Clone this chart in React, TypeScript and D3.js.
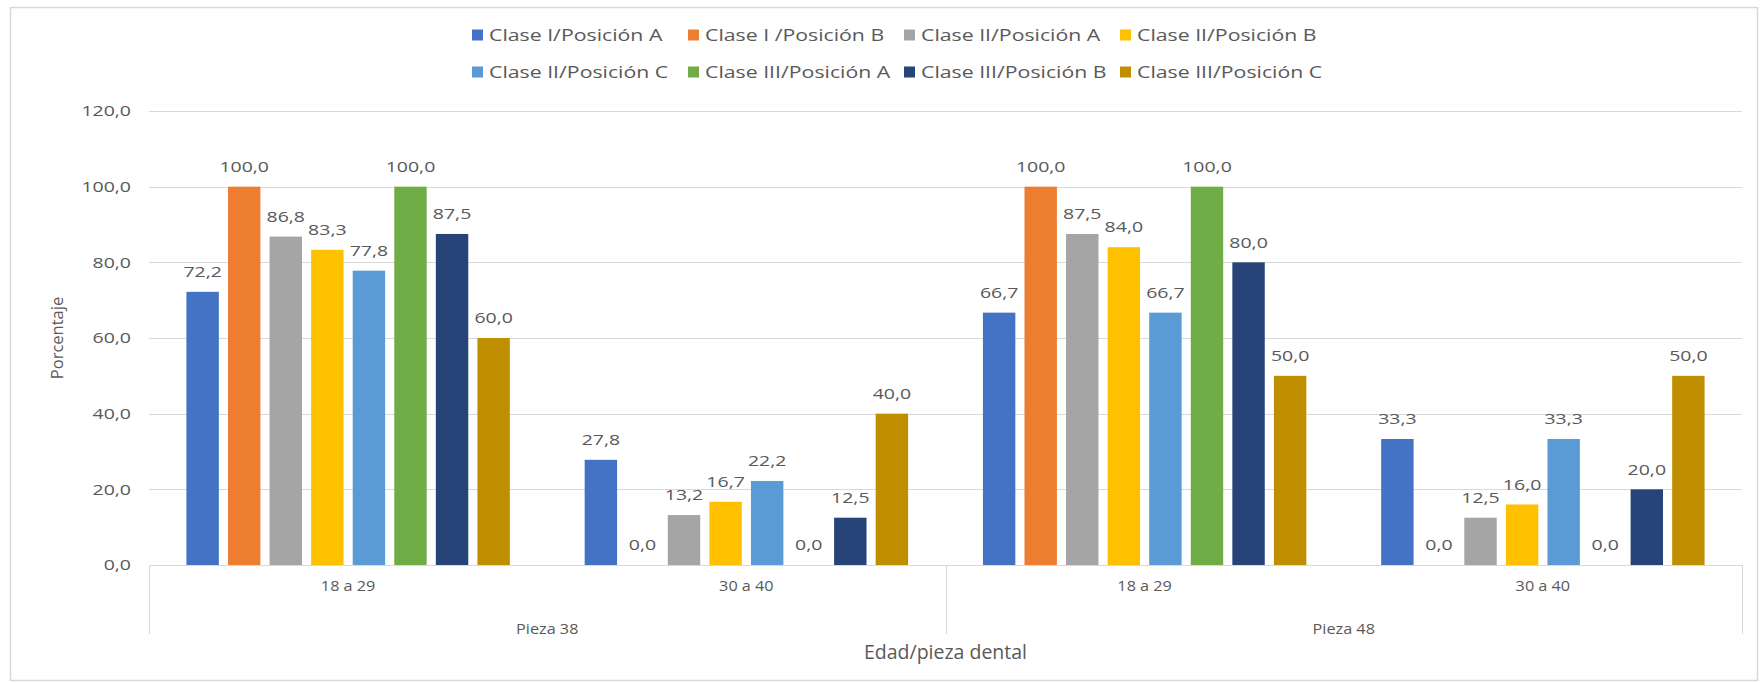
import React, { useEffect, useRef } from "react";
import * as d3 from "d3";

const seriesNames = [
  "Clase I/Posición A",
  "Clase I /Posición B",
  "Clase II/Posición A",
  "Clase II/Posición B",
  "Clase II/Posición C",
  "Clase III/Posición A",
  "Clase III/Posición B",
  "Clase III/Posición C",
];
const seriesColors = ["#4472C4", "#ED7D31", "#A5A5A5", "#FFC000", "#5B9BD5", "#70AD47", "#264478", "#BF8F00"];

const groups = ["Pieza 38", "Pieza 48"];
const ageLabels = ["18 a 29", "30 a 40"];
const categories = ["P38-18", "P38-30", "P48-18", "P48-30"];

const valP38_18 = [72.2, 100.0, 86.8, 83.3, 77.8, 100.0, 87.5, 60.0];
const valP38_30 = [27.8, 0.0, 13.2, 16.7, 22.2, 0.0, 12.5, 40.0];
const valP48_18 = [66.7, 100.0, 87.5, 84.0, 66.7, 100.0, 80.0, 50.0];
const valP48_30 = [33.3, 0.0, 12.5, 16.0, 33.3, 0.0, 20.0, 50.0];
const categoryValues = [valP38_18, valP38_30, valP48_18, valP48_30];

const yTicks = [0, 20, 40, 60, 80, 100, 120];

const W = 1760;
const H = 683;
const FONT = "'Open Sans', 'Noto Sans', sans-serif";
const TXT = "#595959";

const fmt = (v: number) => d3.format(".1f")(v).replace(".", ",");

export default function App() {
  const ref = useRef<SVGSVGElement | null>(null);

  useEffect(() => {
    const svg = d3.select(ref.current);
    svg.selectAll("*").remove();

    const left = 149;
    const right = 1742;
    const top = 111;
    const bottom = 565;

    const y = d3.scaleLinear().domain([0, 120]).range([bottom, top]);
    const x0 = d3.scaleBand<string>().domain(categories).range([left, right]).padding(0);
    const x1 = d3
      .scaleBand<number>()
      .domain(d3.range(seriesNames.length))
      .range([0, x0.bandwidth()])
      .paddingInner(0.22)
      .paddingOuter(0.9);

    // helper: text with horizontal stretch
    const stretched = (
      sel: any,
      xf: (d: any, i: number) => number,
      yf: (d: any, i: number) => number,
      size: number,
      sx: number,
      anchor: string
    ) =>
      sel
        .attr("transform", (d: any, i: number) => `translate(${xf(d, i)},${yf(d, i)}) scale(${sx},1)`)
        .attr("dy", "0.35em")
        .attr("text-anchor", anchor)
        .attr("font-family", FONT)
        .attr("font-size", size)
        .attr("fill", TXT);

    // outer border
    svg
      .append("rect")
      .attr("x", 10.5)
      .attr("y", 7.5)
      .attr("width", 1747)
      .attr("height", 673)
      .attr("fill", "#fff")
      .attr("stroke", "#d9d9d9")
      .attr("stroke-width", 1.5);

    // gridlines
    svg
      .append("g")
      .selectAll("line")
      .data(yTicks.filter((t) => t > 0))
      .join("line")
      .attr("x1", left)
      .attr("x2", right)
      .attr("y1", (d) => Math.round(y(d)) + 0.5)
      .attr("y2", (d) => Math.round(y(d)) + 0.5)
      .attr("stroke", "#d9d9d9")
      .attr("stroke-width", 1);

    // y tick labels
    stretched(
      svg.append("g").selectAll("text").data(yTicks).join("text"),
      () => 131,
      (d) => y(d),
      15,
      1.3,
      "end"
    ).text((d: number) => fmt(d));

    // bars
    const gCats = svg
      .append("g")
      .selectAll("g")
      .data(categories)
      .join("g")
      .attr("transform", (c) => `translate(${x0(c)},0)`);

    gCats
      .selectAll("rect")
      .data((c, i) => categoryValues[i].map((v, s) => ({ v, s })))
      .join("rect")
      .attr("x", (d) => x1(d.s)!)
      .attr("width", x1.bandwidth())
      .attr("y", (d) => y(d.v))
      .attr("height", (d) => bottom - y(d.v))
      .attr("fill", (d) => seriesColors[d.s]);

    stretched(
      gCats
        .selectAll("text")
        .data((c, i) => categoryValues[i].map((v, s) => ({ v, s })))
        .join("text"),
      (d) => x1(d.s)! + x1.bandwidth() / 2,
      (d) => y(d.v) - 20,
      15,
      1.3,
      "middle"
    ).text((d: any) => fmt(d.v));

    // x axis baseline
    svg
      .append("line")
      .attr("x1", left)
      .attr("x2", right)
      .attr("y1", bottom + 0.5)
      .attr("y2", bottom + 0.5)
      .attr("stroke", "#d9d9d9");

    // group separators
    const sepX = [left, x0(categories[2])!, right];
    svg
      .append("g")
      .selectAll("line")
      .data(sepX)
      .join("line")
      .attr("x1", (d) => Math.round(d) + 0.5)
      .attr("x2", (d) => Math.round(d) + 0.5)
      .attr("y1", bottom)
      .attr("y2", 634)
      .attr("stroke", "#d9d9d9");

    // age labels
    stretched(
      svg.append("g").selectAll("text").data(categories).join("text"),
      (c) => x0(c)! + x0.bandwidth() / 2,
      () => 586,
      14.5,
      1.12,
      "middle"
    ).text((c: string, i: number) => ageLabels[i % 2]);

    // group labels
    stretched(
      svg.append("g").selectAll("text").data(groups).join("text"),
      (g, i) => (x0(categories[i * 2])! + x0(categories[i * 2 + 1])! + x0.bandwidth()) / 2,
      () => 629,
      14.5,
      1.12,
      "middle"
    ).text((g: string) => g);

    // axis titles
    svg
      .append("text")
      .attr("x", (left + right) / 2)
      .attr("y", 652)
      .attr("dy", "0.35em")
      .attr("text-anchor", "middle")
      .attr("font-family", FONT)
      .attr("font-size", 19.5)
      .attr("fill", TXT)
      .text("Edad/pieza dental");

    svg
      .append("text")
      .attr("transform", `translate(57,${(top + bottom) / 2}) rotate(-90)`)
      .attr("dy", "0.35em")
      .attr("text-anchor", "middle")
      .attr("font-family", FONT)
      .attr("font-size", 16.5)
      .attr("fill", TXT)
      .text("Porcentaje");

    // legend
    const legend = svg
      .append("g")
      .selectAll("g")
      .data(seriesNames)
      .join("g")
      .attr("transform", (d, i) => `translate(${472 + (i % 4) * 216},${i < 4 ? 35 : 72})`);

    legend
      .append("rect")
      .attr("x", 0)
      .attr("y", -5.5)
      .attr("width", 11)
      .attr("height", 11)
      .attr("fill", (d, i) => seriesColors[i]);

    stretched(legend.append("text"), () => 17, () => 0, 16, 1.33, "start").text((d: string) => d);
  }, []);

  return (
    <svg
      ref={ref}
      width={W}
      height={H}
      style={{ position: "absolute", left: 0, top: 0, background: "#fff" }}
    />
  );
}
